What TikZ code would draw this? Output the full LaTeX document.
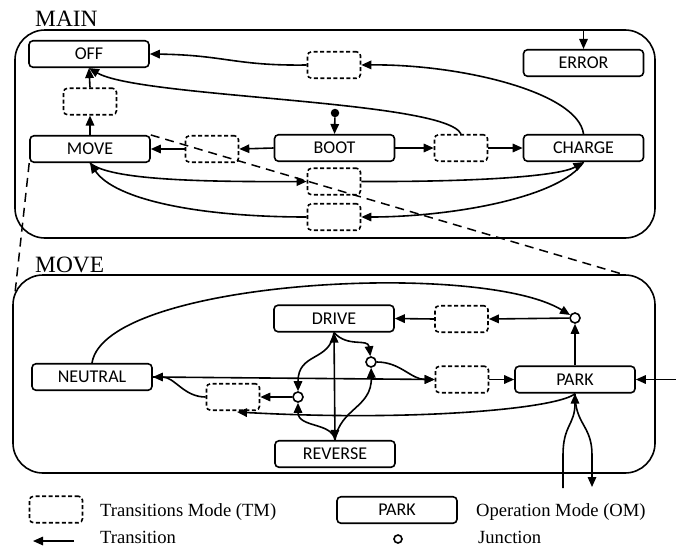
\documentclass[tikz,border=0pt]{standalone}
\usepackage{fontspec}
\setmainfont{Liberation Serif}
\newfontfamily\boxfont{Carlito}
\usetikzlibrary{arrows.meta,calc}
\begin{document}
\begin{tikzpicture}[x=1pt,y=-1pt,
  om/.style={draw, line width=1.6pt, rounded corners=4pt, minimum width=120pt, minimum height=26.5pt, inner sep=0pt, font=\boxfont\fontsize{18}{20}\selectfont},
  tm/.style={draw, line width=1.6pt, dash pattern=on 4pt off 2.5pt, rounded corners=4pt, minimum width=53pt, minimum height=26.5pt, inner sep=0pt},
  jn/.style={circle, draw, line width=1.6pt, fill=white, minimum size=10pt, inner sep=0pt},
  tip/.style={Triangle[length=10pt,width=8.5pt]},
  arr/.style={line width=1.6pt, -{Triangle[length=10pt,width=8.5pt]}},
  ln/.style={line width=1.6pt},
  frame/.style={line width=1.6pt, rounded corners=30pt},
  zoomln/.style={line width=1.5pt, dash pattern=on 9pt off 6pt},
  title/.style={anchor=base west, inner sep=0pt, font=\fontsize{23.4}{26}\selectfont},
  legtxt/.style={anchor=base west, inner sep=0pt, font=\fontsize{18.6}{21}\selectfont},
]
\useasboundingbox (0,0) rectangle (676,546);

% ---------- MAIN ----------
\draw[frame] (15,30) rectangle (655,238);
\node[title] (tmain) at (35,26) {MAIN};

\node[om] (off) at (89,54) {OFF};
\node[om] (moveM) at (90,149) {MOVE};
\node[tm] (tmOM) at (90,101.5) {};
\node[tm] (tmL) at (212,149) {};
\node[om] (boot) at (334.5,148) {BOOT};
\node[tm] (tmR) at (461,148) {};
\node[om] (charge) at (583.5,148) {CHARGE};
\node[om] (error) at (583.5,63) {ERROR};
\node[tm] (tmT) at (334,65) {};
\node[tm] (tm1) at (334,181.5) {};
\node[tm] (tm2) at (334,217) {};
\node[circle, fill, minimum size=8.5pt, inner sep=0pt] (init) at (335,113) {};
\coordinate (errIn) at (583.5,30);

\draw[arr] (errIn) -- (error.north);
\draw[arr] (init) -- (boot.north);
\draw[arr] (tmT.west) .. controls (235,66) and (225,55) .. (off.east);
\draw[arr] (charge.north) .. controls (578,92) and (460,64) .. (tmT.east);
\draw[arr] (tmR.north) .. controls (445,100) and (140,98) .. (off.south);
\draw[arr] (moveM.north) -- (tmOM.south);
\draw[arr] (tmOM.north) -- (off.south);
\draw[arr] (boot.west) -- (tmL.east);
\draw[arr] (tmL.west) -- (moveM.east);
\draw[arr] (boot.east) -- (tmR.west);
\draw[arr] (tmR.east) -- (charge.west);
\draw[arr] (moveM.south) .. controls (110,180) and (200,182) .. (tm1.west);
\draw[arr] (tm2.west) .. controls (200,217) and (115,200) .. (moveM.south);
\draw[arr] (tm1.east) .. controls (480,182) and (560,176) .. (charge.south);
\draw[arr] (charge.south) .. controls (560,198) and (450,217) .. (tm2.east);

% ---------- zoom lines ----------
\coordinate (zA) at (15,293);
\coordinate (zB) at (622,274);
\draw[zoomln] (moveM.south west) -- (zA);
\draw[zoomln] (moveM.north east) -- (zB);

% ---------- MOVE ----------
\draw[frame] (13,275) rectangle (655,473);
\node[title] (tmove) at (35,272) {MOVE};

\node[om] (drive) at (334,318.5) {DRIVE};
\node[om] (reverse) at (335,454) {REVERSE};
\node[om] (neutral) at (92,377) {NEUTRAL};
\node[om] (park) at (575,379.5) {PARK};
\node[tm] (tmD) at (461.5,319) {};
\node[tm] (tmM) at (462,379.5) {};
\node[tm] (tmN) at (233,397) {};
\node[jn] (j1) at (575,318) {};
\node[jn] (j2) at (371,362) {};
\node[jn] (j3) at (298,397) {};
\coordinate (tipN) at (237,412);
\coordinate (inB) at (563,488);
\coordinate (outB) at (592,487);
\coordinate (parkIn) at (676,379.5);

\draw[arr] (park.north) -- (j1);
\draw[arr] (j1) -- (tmD.east);
\draw[arr] (tmD.west) -- (drive.east);
\draw[arr] (neutral.north) .. controls (105,280) and (480,260) .. (j1);
\draw[ln, {Triangle[length=10pt,width=8.5pt]}-{Triangle[length=10pt,width=8.5pt]}] (drive.south) -- (reverse.north);
\draw[arr] (drive.south) .. controls (348,348) and (368,338) .. (j2);
\draw[arr] (drive.south) .. controls (330,362) and (298,352) .. (j3);
\draw[arr] (reverse.north) .. controls (332,422) and (298,428) .. (j3);
\draw[arr] (reverse.north) .. controls (340,408) and (372,408) .. (j2);
\draw[arr] (j2) to[out=0,in=180] (tmM.west);
\draw[arr] (neutral.east) -- (tmM.west);
\draw[arr] (tmM.east) -- (park.west);
\draw[arr] (j3) -- (tmN.east);
\draw[arr] (tmN.west) to[out=180,in=0] (neutral.east);
\draw[arr] (park.south) .. controls (560,408) and (420,422) .. (tipN);
\draw[arr] (inB) -- (563,455) .. controls (563,425) and (575,425) .. (park.south);
\draw[arr] (park.south) .. controls (575,425) and (592,425) .. (592,455) -- (outB);
\draw[arr] (parkIn) -- (park.east);

% ---------- legend ----------
\node[tm] (legTM) at (56,509.5) {};
\node[legtxt] (legTMt) at (100,516) {Transitions Mode (TM)};
\coordinate (la1) at (74,541);
\coordinate (la2) at (33,541);
\draw[arr] (la1) -- (la2);
\node[legtxt] (legTrt) at (100,543) {Transition};
\node[om] (legOM) at (397,510) {PARK};
\node[legtxt] (legOMt) at (476,516) {Operation Mode (OM)};
\node[circle, draw, line width=1.6pt, minimum size=8pt, inner sep=0pt] (legJ) at (398,539) {};
\node[legtxt] (legJt) at (478,543) {Junction};
\end{tikzpicture}
\end{document}
